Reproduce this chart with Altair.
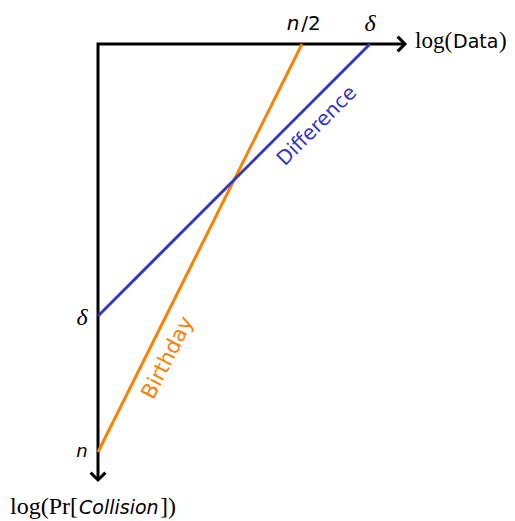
import altair as alt
import pandas as pd

# Schematic quantities (log units, origin at the corner of the axes)
n = 408
delta = 272
axis_x_end = 307
axis_y_end = 436

# Lines: (log Data, log Pr[Collision]) endpoints
birthday_x = [0, n / 2]
birthday_y = [n, 0]
difference_x = [0, delta]
difference_y = [delta, 0]

ORANGE = "#FF8000"
BLUE = "#3535C8"
SERIF = "Liberation Serif"
SANS = "DejaVu Sans"

W, H = 515, 521
xs = alt.Scale(domain=[-98, W - 98], nice=False, zero=False)
ys = alt.Scale(domain=[-44, H - 44], nice=False, zero=False, reverse=True)


def X(f="x"):
    return alt.X(f"{f}:Q", scale=xs, axis=None)


def Y(f="y"):
    return alt.Y(f"{f}:Q", scale=ys, axis=None)


def line(xv, yv, color, width=3):
    df = pd.DataFrame({"x": xv, "y": yv, "o": list(range(len(xv)))})
    return alt.Chart(df).mark_line(color=color, strokeWidth=width, strokeCap="butt").encode(
        x=X(), y=Y(), order="o:Q"
    )


axes = line([axis_x_end - 1, 0, 0], [0, 0, axis_y_end - 1], "black", 3)
birthday = line(birthday_x, birthday_y, ORANGE, 3)
difference = line(difference_x, difference_y, BLUE, 3)

# Open arrowheads (tip of the chevron sits on the end of each axis)
arrow_right = alt.Chart(pd.DataFrame({"x": [axis_x_end], "y": [0]})).mark_point(
    shape="M -1 -1 L 0 0 L -1 1", filled=False, size=220, strokeWidth=3, color="black", opacity=1
).encode(x=X(), y=Y())
arrow_down = alt.Chart(pd.DataFrame({"x": [0], "y": [axis_y_end]})).mark_point(
    shape="M -1 -1 L 0 0 L 1 -1", filled=False, size=220, strokeWidth=3, color="black", opacity=1
).encode(x=X(), y=Y())


def label(text, x, y, font, size, style="normal", align="center", baseline="alphabetic",
          color="black", angle=0):
    df = pd.DataFrame({"x": [x], "y": [y], "t": [text]})
    kw = dict(font=font, fontSize=size, fontStyle=style, align=align, baseline=baseline,
              color=color)
    if angle:
        kw["angle"] = angle
    return alt.Chart(df).mark_text(**kw).encode(x=X(), y=Y(), text="t:N")


labels = [
    # tick labels on the horizontal axis
    label("n", n / 2 - 9, -14, SANS, 20, style="italic"),
    label("/2", n / 2 + 9, -14, SANS, 20),
    label("δ", delta, -13, SERIF, 24, style="italic"),
    # horizontal axis title
    label("log(", 317, 4, SERIF, 23, align="left"),
    label("Data", 355, 4, SANS, 19, align="left"),
    label(")", 401, 4, SERIF, 23, align="left"),
    # tick labels on the vertical axis
    label("δ", -16, delta + 2, SERIF, 24, style="italic", baseline="middle"),
    label("n", -16, n, SANS, 18, style="italic", baseline="middle"),
    # vertical axis title
    label("log(Pr[", -88, 470, SERIF, 24, align="left"),
    label("Collision", -19, 470, SANS, 19, style="italic", align="left"),
    label("])", 62, 470, SERIF, 24, align="left"),
    # line annotations
    label("Difference", 219, 82, SANS, 20, color=BLUE, baseline="middle", angle=315),
    label("Birthday", 70, 314, SANS, 21, color=ORANGE, baseline="middle", angle=297),
]

chart = alt.layer(axes, birthday, difference, arrow_right, arrow_down, *labels).properties(
    width=W, height=H, padding=0, autosize=alt.AutoSizeParams(type="none")
).configure_view(stroke=None)

chart.save("out.html", embed_options={"renderer": "svg", "actions": False})
